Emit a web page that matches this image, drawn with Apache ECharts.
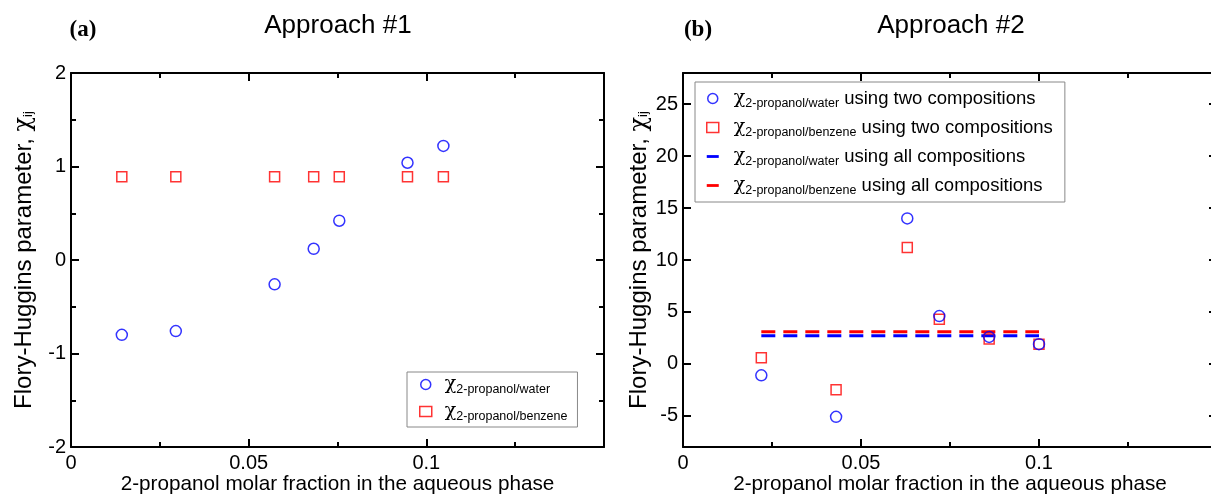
<!DOCTYPE html>
<html>
<head>
<meta charset="utf-8">
<script src="https://cdn.jsdelivr.net/npm/echarts@6/dist/echarts.min.js"></script>
<style>html,body{margin:0;padding:0;background:#fff;overflow:hidden}#c{width:1211px;height:495px}</style>
</head>
<body>
<div id="c"></div>
<script>
// ---- Data ----
// Panel (a): Approach #1
const xA = [0.0143, 0.0295, 0.0573, 0.0683, 0.0755, 0.0947, 0.1048];
const waterA = [-0.80, -0.76, -0.26, 0.12, 0.42, 1.04, 1.22];
const benzA  = [0.89, 0.89, 0.89, 0.89, 0.89, 0.89, 0.89];
// Panel (b): Approach #2
const xB = [0.022, 0.043, 0.063, 0.072, 0.086, 0.100];
const waterB = [-1.1, -5.1, 14.0, 4.6, 2.6, 1.9];
const benzB  = [0.6, -2.5, 11.2, 4.3, 2.4, 1.9];
const allRangeB = [0.022, 0.100];
const waterAllB = 2.7;
const benzAllB = 3.1;
// Tick labels
const xTickLabels = {'0':'0','0.05':'0.05','0.1':'0.1','0.15':''};
const yTicksA = [-2, -1, 0, 1, 2];
const yTicksB = [-5, 0, 5, 10, 15, 20, 25];

const BLUE = '#0000ff', RED = '#ff0000';
const FONT = 'Liberation Sans';

function zip(xs, ys){ return xs.map((x,i)=>[x, ys[i]]); }
function xFmt(v){ const k = String(Math.round(v*1000)/1000); return (k in xTickLabels) ? xTickLabels[k] : k; }

const axisLine = {show:true, onZero:false, lineStyle:{color:'#000', width:2}};
const tick = {show:true, inside:true, length:8, lineStyle:{color:'#000', width:2}};
const minor = {show:true, splitNumber:2, length:5, lineStyle:{color:'#000', width:2}};
const lbl = {color:'#000', fontSize:20, fontFamily:FONT};
const yName = '{a|Flory-Huggins parameter, }{c|χ}{s|ij}';
const yNameStyle = {color:'#000', fontSize:24, fontFamily:FONT,
  rich:{a:{fontSize:24, fontFamily:FONT, color:'#000'},
        c:{fontSize:24, fontFamily:'DejaVu Serif', color:'#000'},
        s:{fontSize:13, fontFamily:FONT, color:'#000', padding:[8,0,0,0]}}};
const xName = '2-propanol molar fraction in the aqueous phase';

function xAxes(grid){
  return [
    {gridIndex:grid, type:'value', position:'bottom', min:0, max:0.15, interval:0.05,
     axisLine, axisTick:tick, minorTick:minor, splitLine:{show:false},
     axisLabel:Object.assign({margin:6, formatter:xFmt}, lbl),
     name:xName, nameLocation:'middle', nameGap:27, nameMoveOverlap:false,
     nameTextStyle:{color:'#000', fontSize:20.7, fontFamily:FONT}},
    {gridIndex:grid, type:'value', position:'top', min:0, max:0.15, interval:0.05,
     axisLine, axisTick:tick, minorTick:minor, splitLine:{show:false}, axisLabel:{show:false}}
  ];
}

const legendRich = {
  c:{fontSize:19, fontFamily:'DejaVu Serif', color:'#000', padding:[0,0,0,8]},
  s:{fontSize:12.5, fontFamily:FONT, color:'#000', padding:[10,0,0,0]},
  t:{fontSize:18.5, fontFamily:FONT, color:'#000'}
};
const legendText = {
  'A_water':'{c|χ}{s|2-propanol/water}',
  'A_benz':'{c|χ}{s|2-propanol/benzene}',
  'B_water_two':'{c|χ}{s|2-propanol/water}{t| using two compositions}',
  'B_benz_two':'{c|χ}{s|2-propanol/benzene}{t| using two compositions}',
  'B_water_all':'{c|χ}{s|2-propanol/water}{t| using all compositions}',
  'B_benz_all':'{c|χ}{s|2-propanol/benzene}{t| using all compositions}'
};
const hollow = c => ({color:'rgba(0,0,0,0)', borderColor:c, borderWidth:1.5});
const dashIcon = 'path://M0,0 L12,0 L12,2.8 L0,2.8 Z';

const option = {
  animation:false,
  backgroundColor:'#fff',
  grid:[
    {left:71, top:73, width:533, height:374, outerBoundsMode:'none', containLabel:false},
    {left:683, top:73, width:534, height:374, outerBoundsMode:'none', containLabel:false}
  ],
  xAxis:[...xAxes(0), ...xAxes(1)],
  yAxis:[
    {gridIndex:0, type:'value', position:'left', min:-2, max:2, interval:1,
     axisLine, axisTick:tick, minorTick:minor, splitLine:{show:false},
     axisLabel:Object.assign({margin:5}, lbl),
     name:yName, nameLocation:'middle', nameRotate:90, nameGap:35, nameTextStyle:yNameStyle},
    {gridIndex:0, type:'value', position:'right', min:-2, max:2, interval:1,
     axisLine, axisTick:tick, minorTick:minor, splitLine:{show:false}, axisLabel:{show:false}},
    {gridIndex:1, type:'value', position:'left', min:-8, max:28,
     axisLine, axisTick:Object.assign({customValues:yTicksB}, tick), splitLine:{show:false},
     axisLabel:Object.assign({margin:5, customValues:yTicksB}, lbl),
     name:yName, nameLocation:'middle', nameRotate:90, nameGap:31, nameTextStyle:yNameStyle},
    {gridIndex:1, type:'value', position:'right', min:-8, max:28,
     axisLine, axisTick:Object.assign({customValues:yTicksB}, tick), splitLine:{show:false}, axisLabel:{show:false}}
  ],
  legend:[
    {left:407, top:372, orient:'vertical', itemWidth:12, itemHeight:10, itemGap:6,
     padding:[3,10,4,12], backgroundColor:'#fff', borderColor:'#888', borderWidth:1, borderRadius:0,
     selectedMode:false,
     data:[{name:'A_water', icon:'circle', itemStyle:hollow(BLUE)},
           {name:'A_benz', icon:'rect', itemStyle:hollow(RED)}],
     formatter:n=>legendText[n], textStyle:{rich:legendRich}},
    {left:695, top:82, orient:'vertical', itemWidth:12, itemHeight:10, itemGap:8,
     padding:[7,12,5,11], backgroundColor:'#fff', borderColor:'#888', borderWidth:1, borderRadius:0,
     selectedMode:false,
     data:[{name:'B_water_two', icon:'circle', itemStyle:hollow(BLUE)},
           {name:'B_benz_two', icon:'rect', itemStyle:hollow(RED)},
           {name:'B_water_all', icon:dashIcon, itemStyle:{color:BLUE, borderWidth:0}},
           {name:'B_benz_all', icon:dashIcon, itemStyle:{color:RED, borderWidth:0}}],
     formatter:n=>legendText[n], textStyle:{rich:Object.assign({}, legendRich, {c:Object.assign({}, legendRich.c, {padding:[0,0,0,10]})})}}
  ],
  series:[
    {name:'A_water', type:'scatter', xAxisIndex:0, yAxisIndex:0, symbol:'circle', symbolSize:11,
     itemStyle:hollow(BLUE), data:zip(xA, waterA)},
    {name:'A_benz', type:'scatter', xAxisIndex:0, yAxisIndex:0, symbol:'rect', symbolSize:10,
     itemStyle:hollow(RED), data:zip(xA, benzA)},
    {name:'B_water_all', type:'line', xAxisIndex:2, yAxisIndex:2, symbol:'none', z:1,
     lineStyle:{color:BLUE, width:3, type:[14,8]}, itemStyle:{color:BLUE},
     data:allRangeB.map(x=>[x, waterAllB])},
    {name:'B_benz_all', type:'line', xAxisIndex:2, yAxisIndex:2, symbol:'none', z:1,
     lineStyle:{color:RED, width:3, type:[14,8]}, itemStyle:{color:RED},
     data:allRangeB.map(x=>[x, benzAllB])},
    {name:'B_benz_two', type:'scatter', xAxisIndex:2, yAxisIndex:2, symbol:'rect', symbolSize:10, z:3,
     itemStyle:hollow(RED), data:zip(xB, benzB)},
    {name:'B_water_two', type:'scatter', xAxisIndex:2, yAxisIndex:2, symbol:'circle', symbolSize:11, z:4,
     itemStyle:hollow(BLUE), data:zip(xB, waterB)}
  ],
  graphic:[
    {type:'text', x:83, y:30, style:{text:'(a)', font:'bold 23px "Liberation Serif"', fill:'#000', textAlign:'center', textVerticalAlign:'middle'}},
    {type:'text', x:338, y:26, style:{text:'Approach #1', font:'26px "Liberation Sans"', fill:'#000', textAlign:'center', textVerticalAlign:'middle'}},
    {type:'text', x:698, y:30, style:{text:'(b)', font:'bold 23px "Liberation Serif"', fill:'#000', textAlign:'center', textVerticalAlign:'middle'}},
    {type:'text', x:951, y:26, style:{text:'Approach #2', font:'26px "Liberation Sans"', fill:'#000', textAlign:'center', textVerticalAlign:'middle'}}
  ]
};
const chart = echarts.init(document.getElementById('c'), null, {renderer:'canvas'});
chart.setOption(option);
</script>
</body>
</html>
